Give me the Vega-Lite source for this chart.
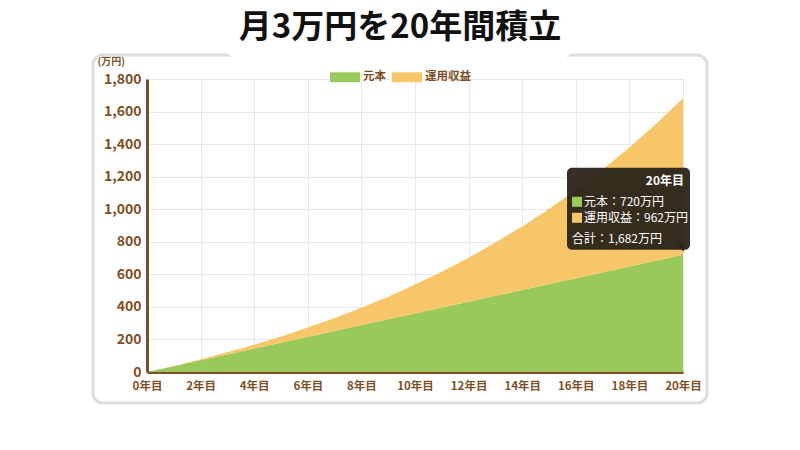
{
  "$schema": "https://vega.github.io/schema/vega-lite/v6.json",
  "autosize": {"type": "none"},
  "width": 536,
  "height": 293,
  "padding": {"left": 147, "top": 79, "right": 117, "bottom": 78},
  "background": "white",
  "datasets": {
    "series": [
      {"year": 0, "元本": 0, "運用収益": 0},
      {"year": 1, "元本": 36, "運用収益": 1},
      {"year": 2, "元本": 72, "運用収益": 6},
      {"year": 3, "元本": 108, "運用収益": 13},
      {"year": 4, "元本": 144, "運用収益": 24},
      {"year": 5, "元本": 180, "運用収益": 38},
      {"year": 6, "元本": 216, "運用収益": 57},
      {"year": 7, "元本": 252, "運用収益": 79},
      {"year": 8, "元本": 288, "運用収益": 107},
      {"year": 9, "元本": 324, "運用収益": 139},
      {"year": 10, "元本": 360, "運用収益": 177},
      {"year": 11, "元本": 396, "運用収益": 220},
      {"year": 12, "元本": 432, "運用収益": 270},
      {"year": 13, "元本": 468, "運用収益": 327},
      {"year": 14, "元本": 504, "運用収益": 390},
      {"year": 15, "元本": 540, "運用収益": 462},
      {"year": 16, "元本": 576, "運用収益": 542},
      {"year": 17, "元本": 612, "運用収益": 632},
      {"year": 18, "元本": 648, "運用収益": 731},
      {"year": 19, "元本": 684, "運用収益": 841},
      {"year": 20, "元本": 720, "運用収益": 962}
    ],
    "tip": [
      {"year": 20, "principal": 720, "head": "20年目", "l1": "元本：720万円", "l2": "運用収益：962万円", "l3": "合計：1,682万円"}
    ],
    "frame": [{"x0": 0, "x1": 20, "y0": 0, "y1": 1800, "xm": 10, "title": "月3万円を20年間積立"}]
  },
  "resolve": {"axis": {"x": "independent", "y": "independent"}},
  "layer": [
    {
      "data": {"name": "series"},
      "transform": [{"fold": ["元本", "運用収益"], "as": ["type", "value"]}],
      "mark": {"type": "area", "opacity": 1},
      "encoding": {
        "x": {
          "field": "year",
          "type": "quantitative",
          "scale": {"domain": [0, 20], "nice": false},
          "axis": {
            "values": [0, 2, 4, 6, 8, 10, 12, 14, 16, 18, 20],
            "labelExpr": "datum.value + '年目'",
            "labelOverlap": false,
            "labelFlush": false,
            "title": null,
            "grid": true,
            "domainColor": "#7f4f24",
            "domainWidth": 3,
            "ticks": false,
            "labelColor": "#7f4f24",
            "labelFontWeight": "bold",
            "labelFontSize": 11.5,
            "labelPadding": 8,
            "gridColor": "#e8e8e8"
          }
        },
        "y": {
          "field": "value",
          "type": "quantitative",
          "stack": "zero",
          "scale": {"domain": [0, 1800], "nice": false},
          "axis": {
            "values": [0, 200, 400, 600, 800, 1000, 1200, 1400, 1600, 1800],
            "format": ",.0f",
            "labelOverlap": false,
            "title": "(万円)",
            "grid": true,
            "titleAngle": 0,
            "titleAlign": "left",
            "titleBaseline": "middle",
            "titleX": -50,
            "titleY": -18,
            "titleFontSize": 10,
            "titleFontWeight": "bold",
            "titleColor": "#7f4f24",
            "domainColor": "#7f4f24",
            "domainWidth": 3,
            "ticks": false,
            "labelColor": "#7f4f24",
            "labelFontWeight": "bold",
            "labelFontSize": 14,
            "labelPadding": 6,
            "gridColor": "#e8e8e8"
          }
        },
        "color": {
          "field": "type",
          "type": "nominal",
          "scale": {"domain": ["元本", "運用収益"], "range": ["#98c95a", "#f6c668"]},
          "legend": {
            "title": null,
            "orient": "none",
            "direction": "horizontal",
            "legendX": 183,
            "legendY": -17,
            "symbolType": "M-1,-0.33H1V0.33H-1Z",
            "symbolSize": 900,
            "symbolStrokeWidth": 0,
            "labelFontSize": 11.5,
            "labelFontWeight": "bold",
            "labelColor": "#7f4f24",
            "columnPadding": 6,
            "labelOffset": 3
          }
        },
        "order": {"field": "type", "sort": "ascending"}
      }
    },
    {
      "data": {"name": "frame"},
      "mark": {"type": "rect", "fillOpacity": 0, "stroke": "#dddddd", "strokeWidth": 3, "cornerRadius": 10, "xOffset": -54, "x2Offset": 24, "yOffset": -24, "y2Offset": 31, "clip": false},
      "encoding": {
        "x": {"field": "x0", "type": "quantitative", "axis": null},
        "x2": {"field": "x1"},
        "y": {"field": "y1", "type": "quantitative", "axis": null},
        "y2": {"field": "y0"}
      }
    },
    {
      "data": {"name": "frame"},
      "mark": {"type": "rect", "fill": "white", "cornerRadius": 10, "xOffset": -190, "x2Offset": 158, "yOffset": -80, "y2Offset": -22, "clip": false},
      "encoding": {
        "x": {"field": "xm", "type": "quantitative", "axis": null},
        "x2": {"field": "xm"},
        "y": {"field": "y1", "type": "quantitative", "axis": null},
        "y2": {"field": "y1"}
      }
    },
    {
      "data": {"name": "frame"},
      "mark": {"type": "text", "align": "center", "baseline": "middle", "dx": -15, "dy": -51, "fontSize": 33, "fontWeight": "bold", "color": "#111111"},
      "encoding": {
        "x": {"field": "xm", "type": "quantitative", "axis": null},
        "y": {"field": "y1", "type": "quantitative", "axis": null},
        "text": {"field": "title"}
      }
    },
    {
      "data": {"name": "tip"},
      "encoding": {
        "x": {"field": "year", "type": "quantitative", "axis": null},
        "y": {"field": "principal", "type": "quantitative", "axis": null}
      },
      "layer": [
        {
          "mark": {"type": "rect", "fill": "#2b2419", "opacity": 0.95, "cornerRadius": 5, "xOffset": -116, "x2Offset": 7, "yOffset": -87, "y2Offset": -5},
          "encoding": {
            "x2": {"field": "year"},
            "y2": {"field": "principal"}
          }
        },
        {
          "mark": {"type": "point", "shape": "M-1,-1L1,-1L1,1Z", "size": 64, "filled": true, "fill": "#2b2419", "opacity": 0.95, "xOffset": -3, "yOffset": -7}
        },
        {
          "mark": {"type": "text", "align": "right", "baseline": "middle", "dx": 1, "dy": -74, "fontSize": 12, "fontWeight": "bold", "color": "white"},
          "encoding": {"text": {"field": "head"}}
        },
        {
          "mark": {"type": "point", "shape": "square", "size": 100, "filled": true, "fill": "#98c95a", "opacity": 1, "xOffset": -106, "yOffset": -53}
        },
        {
          "mark": {"type": "point", "shape": "square", "size": 100, "filled": true, "fill": "#f6c668", "opacity": 1, "xOffset": -106, "yOffset": -37}
        },
        {
          "mark": {"type": "text", "align": "left", "baseline": "middle", "dx": -99, "dy": -53, "fontSize": 12, "color": "white"},
          "encoding": {"text": {"field": "l1"}}
        },
        {
          "mark": {"type": "text", "align": "left", "baseline": "middle", "dx": -99, "dy": -37, "fontSize": 12, "color": "white"},
          "encoding": {"text": {"field": "l2"}}
        },
        {
          "mark": {"type": "text", "align": "left", "baseline": "middle", "dx": -111, "dy": -16, "fontSize": 12, "color": "white"},
          "encoding": {"text": {"field": "l3"}}
        }
      ]
    }
  ],
  "config": {
    "font": "Noto Sans CJK JP",
    "view": {"stroke": null}
  }
}
